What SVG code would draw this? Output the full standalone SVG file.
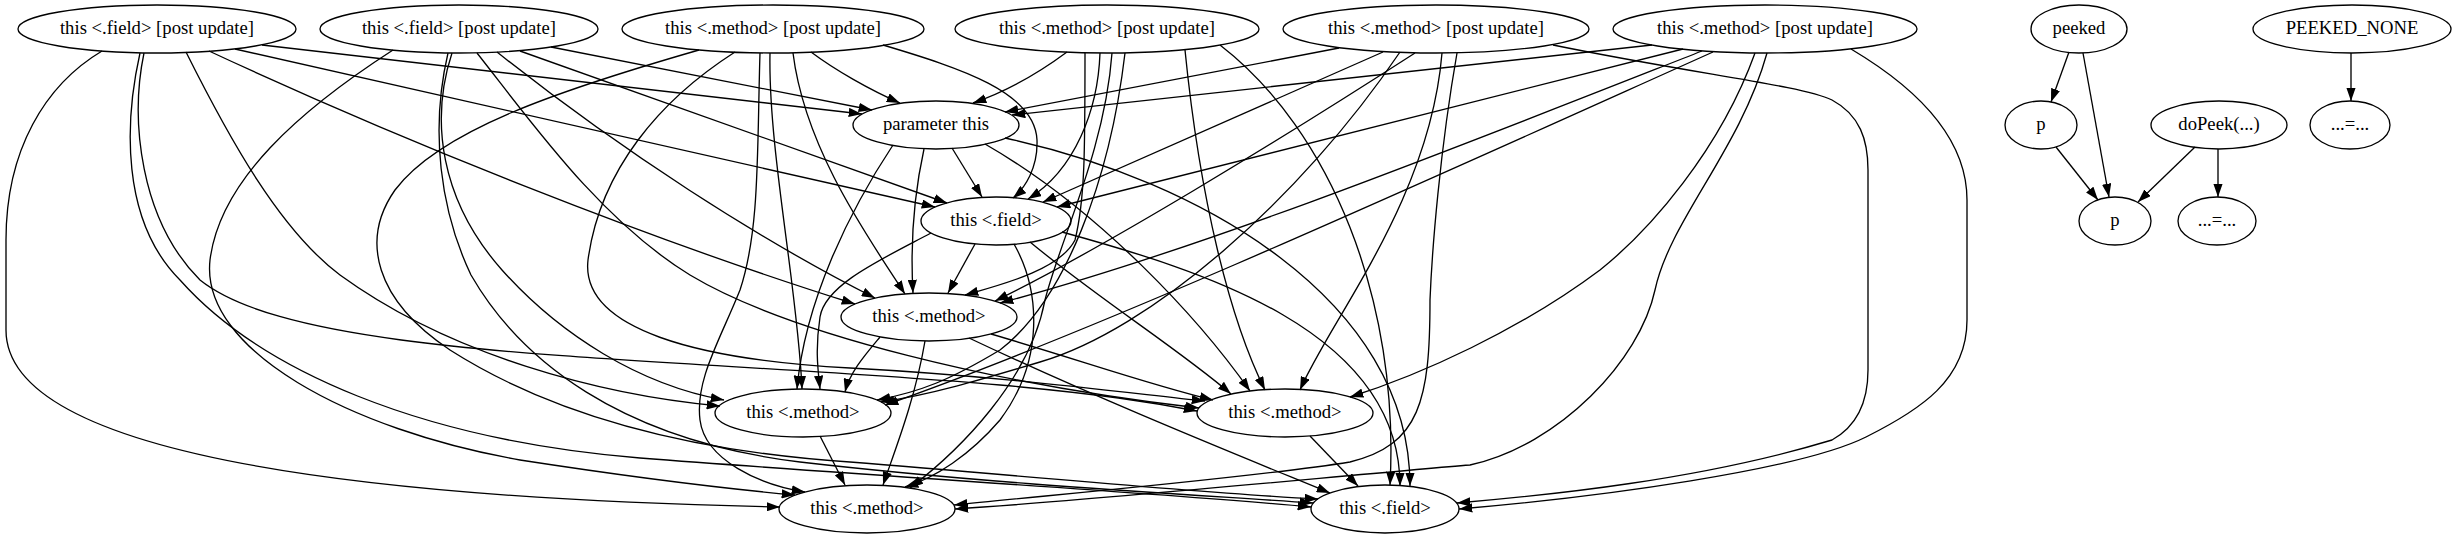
<svg xmlns="http://www.w3.org/2000/svg" width="2454" height="539" viewBox="0 0 2454 539">
<style>
.n ellipse{fill:none;stroke:#000;stroke-width:1.33}
.n text{font-family:"Liberation Serif","Times New Roman",serif;font-size:18.67px;text-anchor:middle;fill:#000}
#edges path{fill:none;stroke:#000;stroke-width:1.33;marker-end:url(#ah)}
</style>
<defs>
<marker id="ah" viewBox="0 0 13.33 9.33" refX="13.33" refY="4.67" markerWidth="13.33" markerHeight="9.33" markerUnits="userSpaceOnUse" orient="auto"><path d="M0,0L13.33,4.67L0,9.33z" fill="#000"/></marker>
</defs>
<rect width="2454" height="539" fill="#fff"/>
<g id="edges">
<path d="M262,45 L862,114"/>
<path d="M551,47 L872,110"/>
<path d="M811,52 C835,70 870,90 900,103"/>
<path d="M1067,52 C1040,72 1005,92 973,103"/>
<path d="M1339,48 L1005,112"/>
<path d="M1652,45 L1012,115"/>
<path d="M235,49 L935,207"/>
<path d="M520,51 L947,203"/>
<path d="M883,45 C960,68 1035,92 1037,140 C1038,168 1025,188 1013,198"/>
<path d="M1100,53 C1098,110 1075,170 1028,199"/>
<path d="M1383,52 L1043,202"/>
<path d="M1683,49 L1057,207"/>
<path d="M209,51 C400,140 650,240 855,304"/>
<path d="M497,52 C620,150 760,240 875,298"/>
<path d="M793,53 C805,150 870,240 905,294"/>
<path d="M1085,53 C1085,150 1085,200 1075,240 C1060,270 1000,285 965,295"/>
<path d="M1415,53 C1280,140 1100,250 995,301"/>
<path d="M1702,51 C1450,150 1200,250 1000,303"/>
<path d="M186,52 C230,140 280,230 340,275 C450,355 600,395 720,406"/>
<path d="M452,53 C430,120 440,200 502,270 C560,335 640,385 724,400"/>
<path d="M770,53 C768,150 798,290 802,389"/>
<path d="M1125,53 C1110,180 1065,300 1000,350 C950,380 920,392 877,400"/>
<path d="M1400,52 C1300,200 1150,330 1040,362 C980,380 930,395 881,402"/>
<path d="M1713,52 C1450,170 1100,330 885,405"/>
<path d="M144,53 C130,120 140,220 200,280 C300,360 650,355 1000,385 C1100,394 1150,402 1197,411"/>
<path d="M477,53 C530,120 600,220 690,275 C790,335 1000,385 1199,408"/>
<path d="M735,52 C660,100 600,170 588,260 C580,330 700,360 850,368 C1000,376 1120,392 1205,401"/>
<path d="M1185,50 C1200,200 1230,320 1265,390"/>
<path d="M1442,53 C1430,200 1330,320 1300,390"/>
<path d="M1755,53 C1720,150 1650,230 1600,270 C1520,330 1420,375 1350,397"/>
<path d="M102,51 C45,85 6,150 6,240 L6,330 C6,470 450,500 780,507"/>
<path d="M393,50 C300,110 220,180 210,260 C200,350 350,430 520,460 C650,480 740,490 795,495"/>
<path d="M760,53 C757,150 760,230 740,290 C720,340 695,380 700,420 C705,460 760,485 805,492"/>
<path d="M1112,53 C1105,150 1060,240 1045,300 C1030,380 960,450 910,488"/>
<path d="M1457,53 C1440,150 1432,250 1430,300 C1430,400 1420,445 1350,462 C1250,478 1050,495 954,505"/>
<path d="M1767,53 C1740,150 1670,220 1655,290 C1640,360 1560,445 1470,465 C1380,472 1100,500 955,509"/>
<path d="M140,53 C125,120 120,220 180,280 C260,370 420,440 640,458 C900,478 1150,492 1311,507"/>
<path d="M448,53 C430,130 440,210 471,275 C520,360 620,440 800,462 C1000,485 1200,495 1313,503"/>
<path d="M699,50 C560,90 440,130 395,190 C360,240 375,300 450,350 C560,420 700,452 850,462 C1050,478 1200,493 1318,499"/>
<path d="M1220,45 C1330,130 1400,300 1390,485"/>
<path d="M1553,45 C1700,75 1800,85 1832,100 C1860,115 1868,140 1868,170 L1868,370 C1868,410 1850,430 1832,440 C1700,480 1550,495 1457,503"/>
<path d="M1851,49 C1920,90 1967,140 1967,200 L1967,320 C1967,380 1920,410 1866,437 C1800,470 1600,497 1459,509"/>
<path d="M952,148 L982,197"/>
<path d="M924,149 C915,190 910,240 913,293"/>
<path d="M893,145 C850,210 805,300 797,389"/>
<path d="M985,144 C1100,210 1200,320 1250,391"/>
<path d="M1005,138 C1200,180 1410,300 1410,486"/>
<path d="M975,244 L948,293"/>
<path d="M931,233 C880,260 825,285 820,317 C815,350 818,370 820,389"/>
<path d="M1014,244 C1040,290 1045,360 1000,420 C970,455 935,478 905,487"/>
<path d="M1030,242 C1100,300 1180,350 1231,394"/>
<path d="M1062,232 C1200,270 1400,330 1400,486"/>
<path d="M880,337 C865,355 850,372 845,392"/>
<path d="M925,341 C915,400 895,450 883,485"/>
<path d="M991,334 C1080,360 1150,385 1213,400"/>
<path d="M969,338 C1100,400 1250,460 1330,493"/>
<path d="M820,436 L845,485"/>
<path d="M1310,436 L1358,486"/>
<path d="M2069,52 L2051,102"/>
<path d="M2083,53 L2109,197"/>
<path d="M2056,147 L2098,200"/>
<path d="M2195,147 L2138,202"/>
<path d="M2218,149 L2218,197"/>
<path d="M2351,53 L2351,101"/>
</g>
<g id="n_a1" class="n"><ellipse cx="157" cy="29" rx="139" ry="24"/><text x="157" y="34">this &lt;.field&gt; [post update]</text></g>
<g id="n_a2" class="n"><ellipse cx="459" cy="29" rx="139" ry="24"/><text x="459" y="34">this &lt;.field&gt; [post update]</text></g>
<g id="n_a3" class="n"><ellipse cx="773" cy="29" rx="151" ry="24"/><text x="773" y="34">this &lt;.method&gt; [post update]</text></g>
<g id="n_a4" class="n"><ellipse cx="1107" cy="29" rx="152" ry="24"/><text x="1107" y="34">this &lt;.method&gt; [post update]</text></g>
<g id="n_a5" class="n"><ellipse cx="1436" cy="29" rx="153" ry="24"/><text x="1436" y="34">this &lt;.method&gt; [post update]</text></g>
<g id="n_a6" class="n"><ellipse cx="1765" cy="29" rx="152" ry="24"/><text x="1765" y="34">this &lt;.method&gt; [post update]</text></g>
<g id="n_param" class="n"><ellipse cx="936" cy="125" rx="83" ry="24"/><text x="936" y="130">parameter this</text></g>
<g id="n_field1" class="n"><ellipse cx="996" cy="221" rx="75" ry="24"/><text x="996" y="226">this &lt;.field&gt;</text></g>
<g id="n_m3" class="n"><ellipse cx="929" cy="317" rx="88" ry="24"/><text x="929" y="322">this &lt;.method&gt;</text></g>
<g id="n_m4l" class="n"><ellipse cx="803" cy="413" rx="88" ry="24"/><text x="803" y="418">this &lt;.method&gt;</text></g>
<g id="n_m4r" class="n"><ellipse cx="1285" cy="413" rx="88" ry="24"/><text x="1285" y="418">this &lt;.method&gt;</text></g>
<g id="n_m5" class="n"><ellipse cx="867" cy="509" rx="88" ry="24"/><text x="867" y="514">this &lt;.method&gt;</text></g>
<g id="n_f5" class="n"><ellipse cx="1385" cy="509" rx="74" ry="24"/><text x="1385" y="514">this &lt;.field&gt;</text></g>
<g id="n_peeked" class="n"><ellipse cx="2079" cy="29" rx="48" ry="24"/><text x="2079" y="34">peeked</text></g>
<g id="n_peekednone" class="n"><ellipse cx="2352" cy="29" rx="99" ry="24"/><text x="2352" y="34">PEEKED_NONE</text></g>
<g id="n_p1" class="n"><ellipse cx="2041" cy="125" rx="36" ry="24"/><text x="2041" y="130">p</text></g>
<g id="n_dopeek" class="n"><ellipse cx="2219" cy="125" rx="68" ry="24"/><text x="2219" y="130">doPeek(...)</text></g>
<g id="n_eq1" class="n"><ellipse cx="2350" cy="125" rx="40" ry="24"/><text x="2350" y="130">...=...</text></g>
<g id="n_p2" class="n"><ellipse cx="2115" cy="221" rx="36" ry="24"/><text x="2115" y="226">p</text></g>
<g id="n_eq2" class="n"><ellipse cx="2217" cy="221" rx="39" ry="24"/><text x="2217" y="226">...=...</text></g>
</svg>
